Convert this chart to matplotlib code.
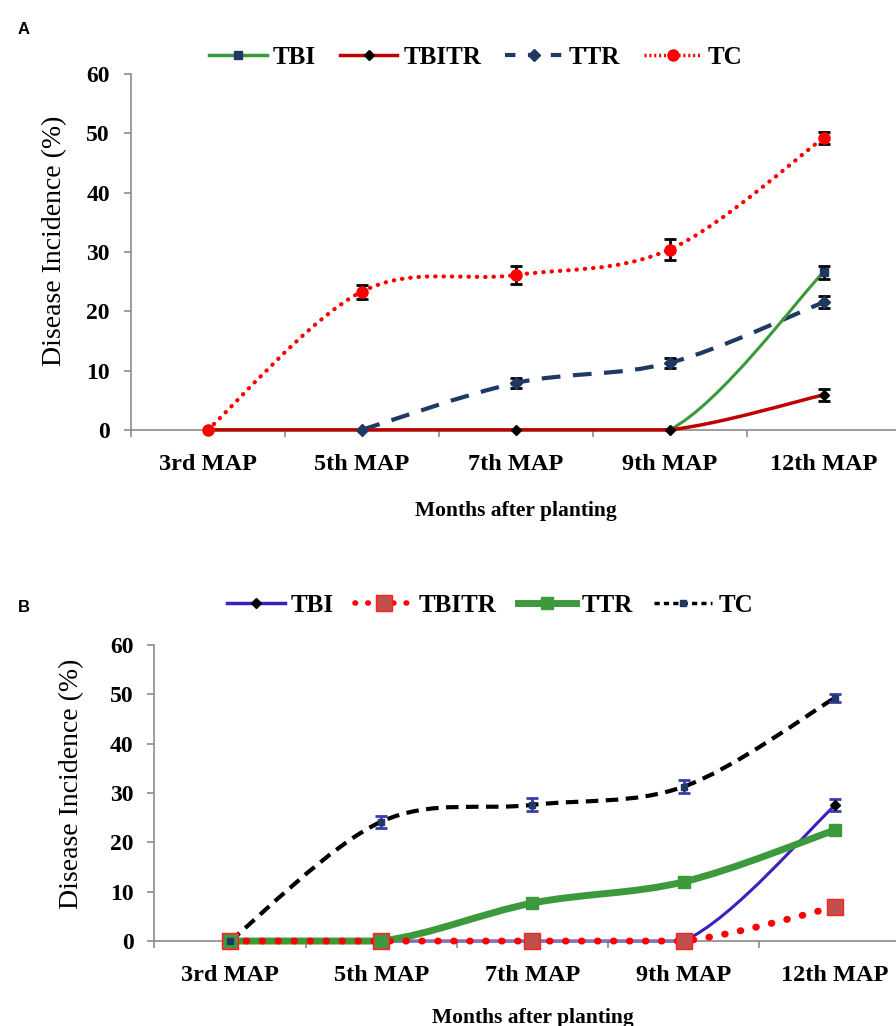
import numpy as np
import matplotlib
matplotlib.use("Agg")
import matplotlib.pyplot as plt
from matplotlib.path import Path
from matplotlib.patches import PathPatch
from matplotlib.lines import Line2D

# Data
categories = ["3rd MAP", "5th MAP", "7th MAP", "9th MAP", "12th MAP"]
yticks = [0, 10, 20, 30, 40, 50, 60]

# Panel A
a_tbi = [0, 0, 0, 0, 26.6]
a_tbi_err = [0, 0, 0, 0, 1.1]
a_tbitr = [0, 0, 0, 0, 5.9]
a_tbitr_err = [0, 0, 0, 0, 1.0]
a_ttr = [np.nan, 0, 7.9, 11.3, 21.5]
a_ttr_err = [0, 0, 0.9, 0.9, 1.0]
a_tc = [0, 23.3, 26.1, 30.4, 49.2]
a_tc_err = [0, 1.2, 1.5, 1.7, 1.0]

# Panel B
b_tbi = [0, 0, 0, 0, 27.5]
b_tbi_err = [0, 0, 0, 0, 1.2]
b_tbitr = [0, 0, 0, 0, 6.9]
b_tbitr_err = [0, 0, 0, 0, 0]
b_ttr = [0, 0, 7.7, 12.0, 22.5]
b_ttr_err = [0, 0, 0.6, 0.7, 0.9]
b_tc = [0, 24.2, 27.6, 31.3, 49.3]
b_tc_err = [0, 1.2, 1.3, 1.3, 0.8]

SERIF = "Liberation Serif"
plt.rcParams["font.family"] = [SERIF, "DejaVu Serif"]
GRAY = "#8c8c8c"


def smooth_line(ax, y, color, lw, ls="-", cap="butt", zorder=2):
    # Excel-like smoothed line (Catmull-Rom as cubic Bezier)
    x = np.arange(len(y), dtype=float)
    y = np.asarray(y, dtype=float)
    ok = ~np.isnan(y)
    pts = np.column_stack([x[ok], y[ok]])
    n = len(pts)
    verts = [tuple(pts[0])]
    codes = [Path.MOVETO]
    for i in range(n - 1):
        p0 = pts[i - 1] if i > 0 else pts[i]
        p1, p2 = pts[i], pts[i + 1]
        p3 = pts[i + 2] if i + 2 < n else p2
        c1 = p1 + (p2 - p0) / 6.0
        c2 = p2 - (p3 - p1) / 6.0
        if p1[1] == p2[1]:
            c1[1] = c2[1] = p1[1]
        verts += [tuple(c1), tuple(c2), tuple(p2)]
        codes += [Path.CURVE4] * 3
    patch = PathPatch(Path(verts, codes), fill=False, edgecolor=color, lw=lw,
                      linestyle=ls, capstyle=cap, zorder=zorder, clip_on=False)
    ax.add_patch(patch)


def points(ax, y, err, marker, ms, mfc, mec, ecolor, zorder):
    x = np.arange(len(y))
    y = np.asarray(y, dtype=float)
    err = np.asarray(err, dtype=float)
    m = (err > 0) & ~np.isnan(y)
    if m.any():
        ax.errorbar(x[m], y[m], yerr=err[m], fmt="none", ecolor=ecolor,
                    elinewidth=2, capsize=4, capthick=2, zorder=zorder + 0.5)
    ax.plot(x, y, linestyle="none", marker=marker, ms=ms, mfc=mfc, mec=mec,
            mew=1, zorder=zorder + 0.6, clip_on=False)


def style_axes(ax, ylab_x, xlab_pad):
    ax.set_xlim(-0.5, 4.5)
    ax.set_ylim(0, 60)
    for s in ["top", "right"]:
        ax.spines[s].set_visible(False)
    for s in ["left", "bottom"]:
        ax.spines[s].set_color(GRAY)
        ax.spines[s].set_linewidth(1.2)
    ax.set_yticks(yticks)
    ax.set_xticks(range(len(categories)))
    ax.set_xticklabels(categories, fontsize=17.5, fontweight="bold")
    ax.set_xticks(np.arange(-0.5, 5.0, 1.0), minor=True)
    ax.tick_params(axis="x", which="major", length=0, pad=17)
    ax.tick_params(axis="x", which="minor", length=5, color=GRAY, width=1.2)
    ax.tick_params(axis="y", length=5, color=GRAY, width=1.2, pad=10,
                   labelsize=17)
    for t in ax.get_yticklabels():
        t.set_fontweight("bold")
    ax.set_ylabel("Disease Incidence (%)", fontsize=20)
    ax.yaxis.set_label_coords(ylab_x, 0.53)
    ax.set_xlabel("Months after planting", fontsize=15.5, fontweight="bold",
                  labelpad=xlab_pad)


fig = plt.figure(figsize=(8.96, 10.26), dpi=100)
legend_font = {"family": SERIF, "weight": "bold", "size": 18}

# ---------------- Panel A ----------------
axA = fig.add_axes([0.146, 0.581, 0.859, 0.347])
style_axes(axA, -0.083, 19)

smooth_line(axA, a_tc, "#ff0000", 3, (0, (0.1, 1.9)), cap="round", zorder=2)
smooth_line(axA, a_ttr, "#1f3864", 3, (0, (4.5, 3)), zorder=3)
smooth_line(axA, a_tbi, "#3a9a3a", 2.2, "-", zorder=4)
smooth_line(axA, a_tbitr, "#c00000", 2.5, "-", zorder=5)
points(axA, [np.nan] * 4 + a_tbi[4:], a_tbi_err, "s", 6, "#1f3864", "#1f3864", "black", 6)
points(axA, a_tbitr, a_tbitr_err, "D", 5, "black", "black", "black", 6)
points(axA, a_ttr, a_ttr_err, "D", 6, "#1f3864", "#1f3864", "black", 7)
points(axA, a_tc, a_tc_err, "o", 8, "#ff0000", "#ff0000", "black", 8)

hA = [
    Line2D([], [], color="#3a9a3a", lw=2.5, marker="s", ms=6, mfc="#1f3864", mec="#1f3864"),
    Line2D([], [], color="#c00000", lw=2.5, marker="D", ms=5, mfc="black", mec="black"),
    Line2D([], [], color="#1f3864", lw=3, ls=(0, (2.5, 3)), marker="D", ms=6, mfc="#1f3864", mec="#1f3864"),
    Line2D([], [], color="#ff0000", lw=2.5, ls=(0, (0.6, 0.8)), marker="o", ms=8, mfc="#ff0000", mec="#ff0000"),
]
fig.legend(hA, ["TBI", "TBITR", "TTR", "TC"], loc="center", bbox_to_anchor=(476 / 896, 1 - 57 / 1026),
           ncol=4, frameon=False, prop=legend_font,
           handlelength=2.3, handletextpad=0.25, columnspacing=0.95)

# ---------------- Panel B ----------------
axB = fig.add_axes([0.1723, 0.0828, 0.844, 0.2885])
style_axes(axB, -0.0925, 16)

smooth_line(axB, b_tbi, "#3a20c0", 2.2, "-", zorder=2)
smooth_line(axB, b_ttr, "#3c9a3c", 5, "-", zorder=3)
smooth_line(axB, b_tbitr, "#ff0000", 5, (0, (0.1, 2.2)), cap="round", zorder=4)
smooth_line(axB, b_tc, "black", 3, (0, (3, 1.8)), zorder=5)
points(axB, b_tbi, b_tbi_err, "D", 5, "black", "black", "#3a3ab0", 6)
points(axB, b_tbitr, b_tbitr_err, "s", 11, "#c0504d", "#ff2020", "#3a3ab0", 6)
points(axB, b_ttr, b_ttr_err, "s", 8, "#3c9a3c", "#3c9a3c", "#3a3ab0", 7)
points(axB, b_tc, b_tc_err, "s", 5, "#1f3864", "#1f3864", "#3a3ab0", 8)

hB = [
    Line2D([], [], color="#3a20c0", lw=2.5, marker="D", ms=5, mfc="black", mec="black"),
    Line2D([], [], color="#ff0000", lw=4, ls=(0, (0.1, 2.2)), dash_capstyle="round",
           marker="s", ms=11, mfc="#c0504d", mec="#ff2020"),
    Line2D([], [], color="#3c9a3c", lw=5, marker="s", ms=8, mfc="#3c9a3c", mec="#3c9a3c"),
    Line2D([], [], color="black", lw=2.5, ls=(0, (1.5, 1.2)), marker="s", ms=5, mfc="#1f3864", mec="#1f3864"),
]
fig.legend(hB, ["TBI", "TBITR", "TTR", "TC"], loc="center", bbox_to_anchor=(490 / 896, 1 - 605 / 1026),
           ncol=4, frameon=False, prop=legend_font,
           handlelength=2.3, handletextpad=0.25, columnspacing=0.85)

# Panel letters
fig.text(18 / 896, 1 - 30 / 1026, "A", fontsize=12, fontweight="bold",
         family="Liberation Sans", va="center")
fig.text(18 / 896, 1 - 608 / 1026, "B", fontsize=12, fontweight="bold",
         family="Liberation Sans", va="center")

fig.savefig("out.png", dpi=100)
